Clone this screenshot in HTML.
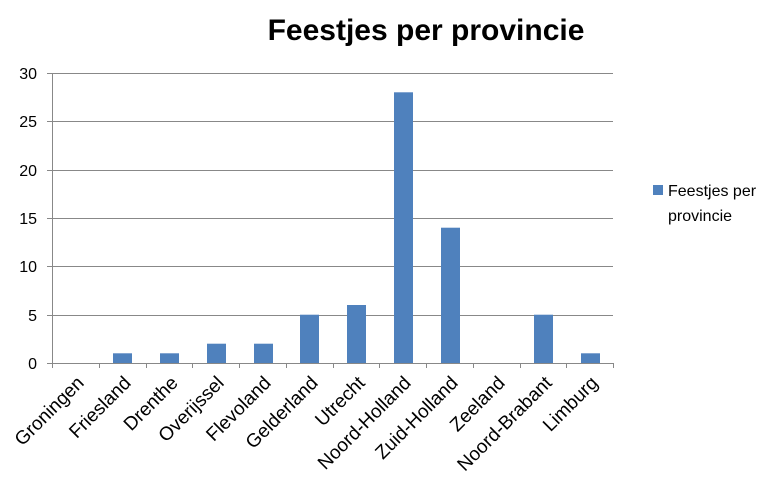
<!DOCTYPE html>
<html><head><style>body{margin:0;background:#fff}</style></head><body>
<svg width="780" height="487" xmlns="http://www.w3.org/2000/svg" font-family="Liberation Sans, sans-serif">
<text x="426" y="40" font-size="30" font-weight="bold" text-anchor="middle">Feestjes per provincie</text>
<g stroke="#888" stroke-width="1">
<line x1="52" y1="73.5" x2="613" y2="73.5"/>
<line x1="52" y1="121.5" x2="613" y2="121.5"/>
<line x1="52" y1="170.5" x2="613" y2="170.5"/>
<line x1="52" y1="218.5" x2="613" y2="218.5"/>
<line x1="52" y1="266.5" x2="613" y2="266.5"/>
<line x1="52" y1="315.5" x2="613" y2="315.5"/>
<line x1="52.5" y1="73" x2="52.5" y2="363"/>
<line x1="47" y1="363.5" x2="613" y2="363.5"/>
<line x1="47" y1="73.5" x2="52" y2="73.5"/><line x1="47" y1="121.5" x2="52" y2="121.5"/><line x1="47" y1="170.5" x2="52" y2="170.5"/><line x1="47" y1="218.5" x2="52" y2="218.5"/><line x1="47" y1="266.5" x2="52" y2="266.5"/><line x1="47" y1="315.5" x2="52" y2="315.5"/>
<line x1="52.5" y1="363" x2="52.5" y2="368"/><line x1="99.5" y1="363" x2="99.5" y2="368"/><line x1="146.5" y1="363" x2="146.5" y2="368"/><line x1="192.5" y1="363" x2="192.5" y2="368"/><line x1="239.5" y1="363" x2="239.5" y2="368"/><line x1="286.5" y1="363" x2="286.5" y2="368"/><line x1="333.5" y1="363" x2="333.5" y2="368"/><line x1="379.5" y1="363" x2="379.5" y2="368"/><line x1="426.5" y1="363" x2="426.5" y2="368"/><line x1="473.5" y1="363" x2="473.5" y2="368"/><line x1="520.5" y1="363" x2="520.5" y2="368"/><line x1="566.5" y1="363" x2="566.5" y2="368"/><line x1="613.5" y1="363" x2="613.5" y2="368"/>
</g>
<g font-size="16" text-anchor="end">
<text x="37" y="79">30</text><text x="37" y="127">25</text><text x="37" y="176">20</text><text x="37" y="224">15</text><text x="37" y="272">10</text><text x="37" y="321">5</text><text x="37" y="369">0</text>
</g>
<g fill="#4f81bd">
<rect x="113" y="353.3" width="19" height="9.7"/>
<rect x="160" y="353.3" width="19" height="9.7"/>
<rect x="207" y="343.7" width="19" height="19.3"/>
<rect x="254" y="343.7" width="19" height="19.3"/>
<rect x="300" y="314.7" width="19" height="48.3"/>
<rect x="347" y="305" width="19" height="58"/>
<rect x="394" y="92.3" width="19" height="270.7"/>
<rect x="441" y="227.7" width="19" height="135.3"/>
<rect x="534" y="314.7" width="19" height="48.3"/>
<rect x="581" y="353.3" width="19" height="9.7"/>
</g>
<g font-size="19" text-anchor="end">
<text transform="translate(85,384) rotate(-45)">Groningen</text>
<text transform="translate(132,384) rotate(-45)">Friesland</text>
<text transform="translate(179,384) rotate(-45)">Drenthe</text>
<text transform="translate(225,384) rotate(-45)">Overijssel</text>
<text transform="translate(272,384) rotate(-45)">Flevoland</text>
<text transform="translate(319,384) rotate(-45)">Gelderland</text>
<text transform="translate(366,384) rotate(-45)">Utrecht</text>
<text transform="translate(412,384) rotate(-45)">Noord-Holland</text>
<text transform="translate(459,384) rotate(-45)">Zuid-Holland</text>
<text transform="translate(506,384) rotate(-45)">Zeeland</text>
<text transform="translate(553,384) rotate(-45)">Noord-Brabant</text>
<text transform="translate(599,384) rotate(-45)">Limburg</text>
</g>
<rect x="653" y="185" width="10" height="10" fill="#4f81bd"/>
<text x="668" y="196" font-size="16">Feestjes per</text>
<text x="668" y="221" font-size="16">provincie</text>
</svg>
</body></html>
